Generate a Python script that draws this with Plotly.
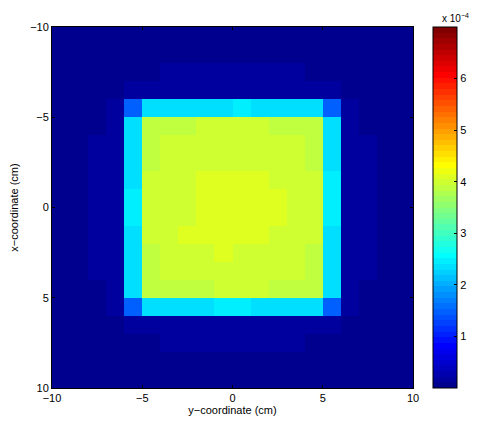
import plotly.graph_objects as go

# Cell centres (cm)
y_coord = [-9.5, -8.5, -7.5, -6.5, -5.5, -4.5, -3.5, -2.5, -1.5, -0.5,
           0.5, 1.5, 2.5, 3.5, 4.5, 5.5, 6.5, 7.5, 8.5, 9.5]   # horizontal axis
x_coord = [-9.5, -8.5, -7.5, -6.5, -5.5, -4.5, -3.5, -2.5, -1.5, -0.5,
           0.5, 1.5, 2.5, 3.5, 4.5, 5.5, 6.5, 7.5, 8.5, 9.5]   # vertical axis

# values in units of 1e-4 (rows = x-coordinate from -10 to 10, cols = y-coordinate)
O, N, B, C, Q, G, H, Y = 0.05, 0.16, 1.48, 2.35, 2.46, 3.88, 3.99, 4.10
dose_e4 = [
    [O, O, O, O, O, O, O, O, O, O, O, O, O, O, O, O, O, O, O, O],
    [O, O, O, O, O, O, O, O, O, O, O, O, O, O, O, O, O, O, O, O],
    [O, O, O, O, O, O, N, N, N, N, N, N, N, N, O, O, O, O, O, O],
    [O, O, O, O, N, N, N, N, N, N, N, N, N, N, N, N, O, O, O, O],
    [O, O, O, N, B, C, C, C, C, C, Q, C, C, C, C, B, N, O, O, O],
    [O, O, O, N, C, G, G, G, H, H, H, H, G, G, G, C, N, O, O, O],
    [O, O, N, N, C, G, H, H, H, H, H, H, H, H, G, C, N, N, O, O],
    [O, O, N, N, C, G, H, H, H, H, H, H, H, H, G, C, N, N, O, O],
    [O, O, N, N, C, H, H, H, Y, Y, Y, Y, H, H, H, Q, N, N, O, O],
    [O, O, N, N, Q, H, H, H, Y, Y, Y, Y, Y, H, H, Q, N, N, O, O],
    [O, O, N, N, Q, H, H, H, Y, Y, Y, Y, Y, H, H, Q, N, N, O, O],
    [O, O, N, N, C, H, H, Y, Y, Y, Y, Y, H, H, H, C, N, N, O, O],
    [O, O, N, N, C, G, H, H, H, Y, H, H, H, H, G, C, N, N, O, O],
    [O, O, N, N, C, G, H, H, H, H, H, H, H, H, G, C, N, N, O, O],
    [O, O, O, N, C, G, G, G, G, H, H, H, G, G, G, C, N, O, O, O],
    [O, O, O, N, B, C, C, C, C, Q, Q, C, C, C, C, B, N, O, O, O],
    [O, O, O, O, N, N, N, N, N, N, N, N, N, N, N, N, O, O, O, O],
    [O, O, O, O, O, O, N, N, N, N, N, N, N, N, O, O, O, O, O, O],
    [O, O, O, O, O, O, O, O, O, O, O, O, O, O, O, O, O, O, O, O],
    [O, O, O, O, O, O, O, O, O, O, O, O, O, O, O, O, O, O, O, O],
]
cbar_ticks = [1, 2, 3, 4, 5, 6]
axis_ticks = [-10, -5, 0, 5, 10]

# MATLAB jet(64) as a stepped colour scale
def jet64():
    n, m = 64, 16
    u = [i / m for i in range(1, m + 1)] + [1.0] * (m - 1) + [i / m for i in range(m, 0, -1)]
    cols = [[0.0, 0.0, 0.0] for _ in range(n)]
    g0 = 8
    for i, val in enumerate(u):
        g = g0 + i + 1
        r = g + m
        b = g - m
        if 1 <= g <= n:
            cols[g - 1][1] = val
        if 1 <= r <= n:
            cols[r - 1][0] = val
        if 1 <= b <= n:
            cols[b - 1][2] = val
    scale = []
    for k, (r, g, b) in enumerate(cols):
        c = f"rgb({round(r*255)},{round(g*255)},{round(b*255)})"
        scale.append([k / n, c])
        scale.append([(k + 1) / n, c])
    return scale

font = dict(family="Liberation Sans, Arial, Helvetica, sans-serif", size=11, color="black")

# page body has an 8px default margin, so the figure is laid out 8px smaller
W, H = 484, 417
L, T, R, Bm = 44, 19, 79, 37
PW = W - L - R
cb_x = (425 - L) / PW

fig = go.Figure(go.Heatmap(
    z=dose_e4, x=y_coord, y=x_coord,
    colorscale=jet64(), zmin=0, zmax=7.0, zsmooth=False,
    colorbar=dict(
        x=cb_x, xanchor="left", xpad=0, ypad=0, y=0.5, yanchor="middle",
        len=1.0, lenmode="fraction", thickness=24, thicknessmode="pixels",
        outlinecolor="black", outlinewidth=1,
        tickvals=cbar_ticks, ticks="inside", ticklen=3, tickcolor="black",
        tickfont=font,
    ),
))

fig.update_xaxes(range=[-10, 10], tickvals=axis_ticks, ticks="inside", ticklen=3,
                 tickcolor="black", showline=True, linecolor="black", linewidth=1,
                 mirror="ticks", showgrid=False, zeroline=False, automargin=False,
                 title=dict(text="y\u2212coordinate (cm)", font=font, standoff=0),
                 tickfont=font)
fig.update_yaxes(range=[10, -10], tickvals=axis_ticks, ticks="inside", ticklen=3,
                 tickcolor="black", showline=True, linecolor="black", linewidth=1,
                 mirror="ticks", showgrid=False, zeroline=False, automargin=False,
                 title=dict(text="x\u2212coordinate (cm)", font=font, standoff=10),
                 tickfont=font)

fig.add_annotation(text="x 10<sup>\u22124</sup>", xref="paper", yref="paper",
                   x=cb_x + 0.02, y=1.0, xanchor="left", yanchor="bottom", yshift=1,
                   showarrow=False, font=dict(family=font["family"], size=10, color="black"))

fig.update_layout(width=W, height=H, margin=dict(l=L, r=R, t=T, b=Bm, autoexpand=False),
                  paper_bgcolor="white", plot_bgcolor="white", font=font)

fig.write_html("out.html")
